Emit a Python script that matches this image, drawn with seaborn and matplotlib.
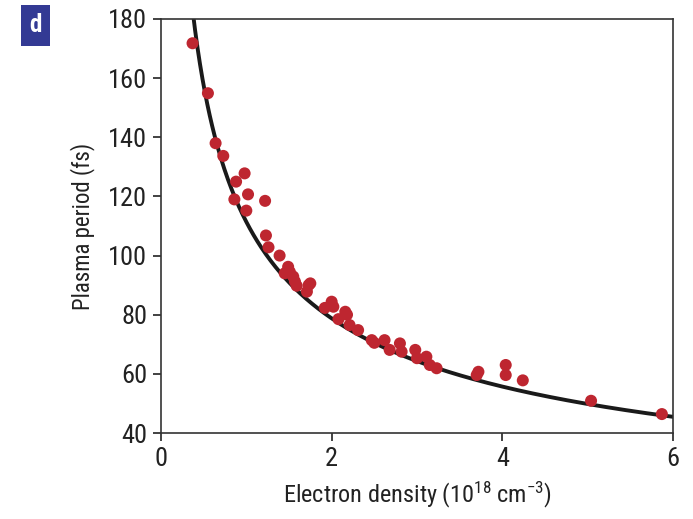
import numpy as np
import pandas as pd
import matplotlib
matplotlib.use("Agg")
import matplotlib.pyplot as plt
import seaborn as sns
from matplotlib import font_manager

# ---- data ----
density = [0.37, 0.55, 0.64, 0.73, 0.86, 0.88, 0.98, 1.00, 1.02, 1.22,
           1.23, 1.26, 1.39, 1.45, 1.49, 1.51, 1.55, 1.57, 1.59, 1.71,
           1.73, 1.75, 1.92, 2.00, 2.02, 2.08, 2.16, 2.18, 2.21, 2.31,
           2.47, 2.50, 2.62, 2.68, 2.80, 2.82, 2.98, 3.00, 3.11, 3.15,
           3.23, 3.70, 3.72, 4.04, 4.04, 4.24, 5.04, 5.87]
period = [171.8, 154.9, 138.0, 133.7, 119.0, 125.0, 127.8, 115.2, 120.7, 118.5,
          106.8, 102.8, 100.0, 94.0, 96.2, 94.5, 92.9, 91.2, 89.8, 87.8,
          90.0, 90.6, 82.3, 84.4, 82.7, 78.5, 81.0, 80.0, 76.5, 74.8,
          71.4, 70.5, 71.4, 68.1, 70.3, 67.5, 68.1, 65.3, 65.8, 63.0,
          61.9, 59.6, 60.7, 63.0, 59.6, 57.8, 50.9, 46.4]

# theory: T = 2*pi/omega_p, omega_p = 5.64e4*sqrt(n[cm^-3]) -> T[fs] = 111.4/sqrt(n[1e18])
PLASMA_COEFF = 111.4
curve_x = np.linspace(0.3, 6.0, 400)
curve_y = PLASMA_COEFF / np.sqrt(curve_x)

x_ticks = [0, 2, 4, 6]
y_ticks = [40, 60, 80, 100, 120, 140, 160, 180]

pts = pd.DataFrame({"density": density, "period": period})
theory = pd.DataFrame({"density": curve_x, "period": curve_y})

sns.set_theme(style="ticks")

# pick a condensed sans if one is installed
names = {f.name for f in font_manager.fontManager.ttflist}
condensed = [f for f in font_manager.fontManager.ttflist
             if str(f.stretch) in ("condensed", "semi-condensed", "extra-condensed")
             and f.name in ("Liberation Sans", "Roboto", "Open Sans", "Noto Sans", "DejaVu Sans")]
fam = None
stretch = "normal"
for cand in ["Liberation Sans Narrow", "Roboto Condensed", "Open Sans Condensed",
             "Noto Sans Condensed", "DejaVu Sans Condensed", "Arial Narrow"]:
    if cand in names:
        fam = cand
        break
if fam is None and condensed:
    fam = condensed[0].name
    stretch = condensed[0].stretch
if fam is None:
    fam = "Liberation Sans"
plt.rcParams["font.family"] = [fam, "DejaVu Sans"]
plt.rcParams["font.stretch"] = stretch
plt.rcParams["mathtext.fontset"] = "custom"
plt.rcParams["mathtext.rm"] = fam

fig = plt.figure(figsize=(6.93, 5.19), dpi=100)
ax = fig.add_axes([0.2323, 0.1657, 0.7388, 0.7977])

sns.lineplot(data=theory, x="density", y="period", color="#1a1a1a", lw=2.8, ax=ax,
             zorder=2)
sns.scatterplot(data=pts, x="density", y="period", color="#be2630", s=75,
                edgecolor="none", ax=ax, zorder=3)

ax.set_xlim(0, 6)
ax.set_ylim(40, 180)
ax.set_xticks(x_ticks)
ax.set_yticks(y_ticks)
ax.tick_params(axis="both", direction="out", length=6, width=1.2, labelsize=19,
               colors="#222222", pad=4)
for sp in ax.spines.values():
    sp.set_visible(True)
    sp.set_linewidth(1.2)
    sp.set_color("#333333")

ax.set_xlabel("Electron density (10$\\mathregular{^{18}}$ cm$\\mathregular{^{\u22123}}$)",
              fontsize=17.5, color="#222222", labelpad=6)
ax.set_ylabel("Plasma period (fs)", fontsize=16.5, color="#222222", labelpad=9)

fig.text(0.0512, 0.951, "d", fontsize=18, fontweight="bold", color="white",
         ha="center", va="center",
         bbox=dict(boxstyle="square,pad=0.35", fc="#333a94", ec="none"))

fig.savefig("out.png", dpi=100)
